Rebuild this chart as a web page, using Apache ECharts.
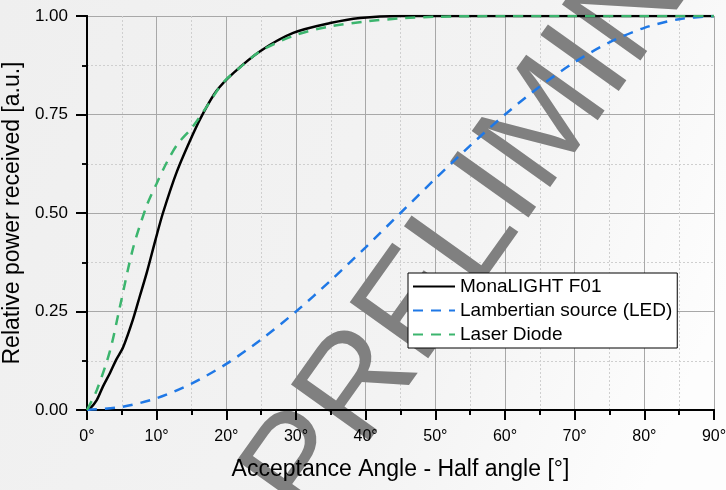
<!DOCTYPE html>
<html>
<head>
    <meta charset="utf-8">
    <script src="https://cdn.jsdelivr.net/npm/echarts@6/dist/echarts.min.js"></script>
    <style>
        * { margin: 0; padding: 0; box-sizing: border-box; }
        html, body { width: 726px; height: 490px; overflow: hidden; }
        #chart { width: 726px; height: 490px; }
    </style>
</head>
<body>
    <div id="chart"></div>
    <script>
        // MonaLIGHT F01 measured curve
        const monaAngles = [0, 0.5, 1.4, 2.3, 3.3, 4.2, 5.2, 6.6, 7.6, 8.6, 9.8, 10.9, 12.9, 15.2, 16.7, 18.6, 21, 24.8, 29.6, 34.9, 39.2, 45, 50, 60, 70, 80, 90];
        const monaValues = [0, 0.005, 0.025, 0.06, 0.094, 0.128, 0.16, 0.23, 0.29, 0.35, 0.43, 0.50, 0.605, 0.70, 0.754, 0.81, 0.855, 0.91, 0.957, 0.982, 0.995, 1, 1, 1, 1, 1, 1];

        // Lambertian source (LED)
        const ledAngles = [0, 5, 10, 15, 20, 25, 30, 35, 40, 45, 50, 55, 60, 65, 70, 75, 80, 85, 90];
        const ledValues = [0, 0.008, 0.03, 0.067, 0.117, 0.179, 0.25, 0.329, 0.413, 0.5, 0.587, 0.671, 0.75, 0.821, 0.883, 0.933, 0.97, 0.992, 1];

        // Laser diode
        const laserAngles = [0, 1.4, 3.3, 4.7, 6.6, 8.6, 10, 11.5, 13, 15, 17, 19.5, 22, 25, 30, 35, 40, 45, 50, 60, 70, 80, 90];
        const laserValues = [0, 0.05, 0.15, 0.26, 0.41, 0.52, 0.575, 0.63, 0.675, 0.715, 0.765, 0.83, 0.87, 0.912, 0.952, 0.974, 0.986, 0.994, 0.998, 1, 1, 1, 1];

        const seriesNames = ['MonaLIGHT F01', 'Lambertian source (LED)', 'Laser Diode'];
        const seriesColors = ['#000000', '#1f78e6', '#3cb56e'];

        const pairs = (xs, ys) => xs.map((x, i) => [x, ys[i]]);
        const font = '"Liberation Sans", Arial, sans-serif';

        const chart = echarts.init(document.getElementById('chart'));

        const frameLine = { show: true, lineStyle: { color: '#000', width: 2 } };
        const majorGrid = { show: true, lineStyle: { color: '#a8a8a8', width: 1 } };
        const minorGrid = { show: true, lineStyle: { color: '#cfcfcf', width: 1, type: [2, 2] } };

        const option = {
            animation: false,
            backgroundColor: {
                type: 'linear', x: 0, y: 0, x2: 1, y2: 0.6,
                colorStops: [
                    { offset: 0, color: '#efefef' },
                    { offset: 0.65, color: '#f3f3f3' },
                    { offset: 1, color: '#fdfdfd' }
                ]
            },
            textStyle: { fontFamily: font },
            grid: { left: 87, right: 12, top: 16, bottom: 80, outerBoundsMode: 'none', containLabel: false },
            graphic: [{
                // watermark
                type: 'text',
                z: 1,
                x: 552,
                y: 118,
                rotation: 54.5 * Math.PI / 180,
                style: {
                    text: 'PRELIMINARY',
                    font: '140px ' + font,
                    fill: '#808080',
                    textAlign: 'center',
                    textVerticalAlign: 'middle'
                }
            }],
            legend: {
                orient: 'vertical',
                left: 408,
                top: 273,
                z: 10,
                backgroundColor: '#ffffff',
                borderColor: '#000000',
                borderWidth: 1,
                borderRadius: 0,
                padding: [4, 5, 4, 4],
                itemWidth: 42,
                itemHeight: 19,
                itemGap: 5,
                itemStyle: { opacity: 0 },
                textStyle: { fontSize: 19, color: '#000', fontFamily: font },
                data: seriesNames
            },
            xAxis: [{
                // labelled bottom axis
                type: 'value',
                min: 0, max: 90, interval: 10,
                position: 'bottom',
                z: 3,
                name: 'Acceptance Angle - Half angle [°]',
                nameLocation: 'middle',
                nameGap: 48,
                nameTextStyle: { fontSize: 23, color: '#000' },
                axisLine: frameLine,
                axisTick: { show: true, length: 10, lineStyle: { color: '#000', width: 2 } },
                minorTick: { show: true, splitNumber: 2, length: 5, lineStyle: { color: '#000', width: 2 } },
                axisLabel: { fontSize: 16, color: '#000', margin: 19, formatter: v => v + '°' },
                splitLine: { show: false }
            }, {
                // top frame
                type: 'value',
                min: 0, max: 90, interval: 10,
                position: 'top',
                z: 3,
                axisLine: frameLine,
                axisTick: { show: true, inside: true, length: 10, lineStyle: { color: '#000', width: 2 } },
                minorTick: { show: true, splitNumber: 2, length: 5, lineStyle: { color: '#000', width: 1.5 } },
                axisLabel: { show: false },
                splitLine: { show: false }
            }, {
                // grid lines only, under the watermark
                type: 'value',
                min: 0, max: 90, interval: 10,
                position: 'bottom',
                z: 0,
                axisLine: { show: false },
                axisTick: { show: false },
                axisLabel: { show: false },
                minorTick: { show: false, splitNumber: 2 },
                splitLine: majorGrid,
                minorSplitLine: minorGrid
            }],
            yAxis: [{
                type: 'value',
                min: 0, max: 1, interval: 0.25,
                position: 'left',
                z: 3,
                name: 'Relative power received [a.u.]',
                nameLocation: 'middle',
                nameGap: 59,
                nameTextStyle: { fontSize: 23, color: '#000' },
                axisLine: frameLine,
                axisTick: { show: true, length: 11, lineStyle: { color: '#000', width: 2 } },
                minorTick: { show: true, splitNumber: 2, length: 5, lineStyle: { color: '#000', width: 1.5 } },
                axisLabel: { fontSize: 17, color: '#000', margin: 19, formatter: v => v.toFixed(2) },
                splitLine: { show: false }
            }, {
                type: 'value',
                min: 0, max: 1, interval: 0.25,
                position: 'right',
                z: 3,
                axisLine: frameLine,
                axisTick: { show: true, inside: true, length: 10, lineStyle: { color: '#000', width: 2 } },
                minorTick: { show: true, splitNumber: 2, length: 5, lineStyle: { color: '#000', width: 1.5 } },
                axisLabel: { show: false },
                splitLine: { show: false }
            }, {
                type: 'value',
                min: 0, max: 1, interval: 0.25,
                position: 'left',
                z: 0,
                axisLine: { show: false },
                axisTick: { show: false },
                axisLabel: { show: false },
                minorTick: { show: false, splitNumber: 2 },
                splitLine: majorGrid,
                minorSplitLine: minorGrid
            }],
            series: [{
                name: seriesNames[0],
                type: 'line',
                z: 4,
                smooth: 0.3,
                symbol: 'none',
                color: seriesColors[0],
                lineStyle: { color: seriesColors[0], width: 2.5 },
                data: pairs(monaAngles, monaValues)
            }, {
                name: seriesNames[1],
                type: 'line',
                z: 4,
                smooth: 0.3,
                symbol: 'none',
                color: seriesColors[1],
                lineStyle: { color: seriesColors[1], width: 2.5, type: [10, 8] },
                data: pairs(ledAngles, ledValues)
            }, {
                name: seriesNames[2],
                type: 'line',
                z: 4,
                smooth: 0.3,
                symbol: 'none',
                color: seriesColors[2],
                lineStyle: { color: seriesColors[2], width: 2.5, type: [10, 8] },
                data: pairs(laserAngles, laserValues)
            }]
        };

        chart.setOption(option);
    </script>
</body>
</html>
